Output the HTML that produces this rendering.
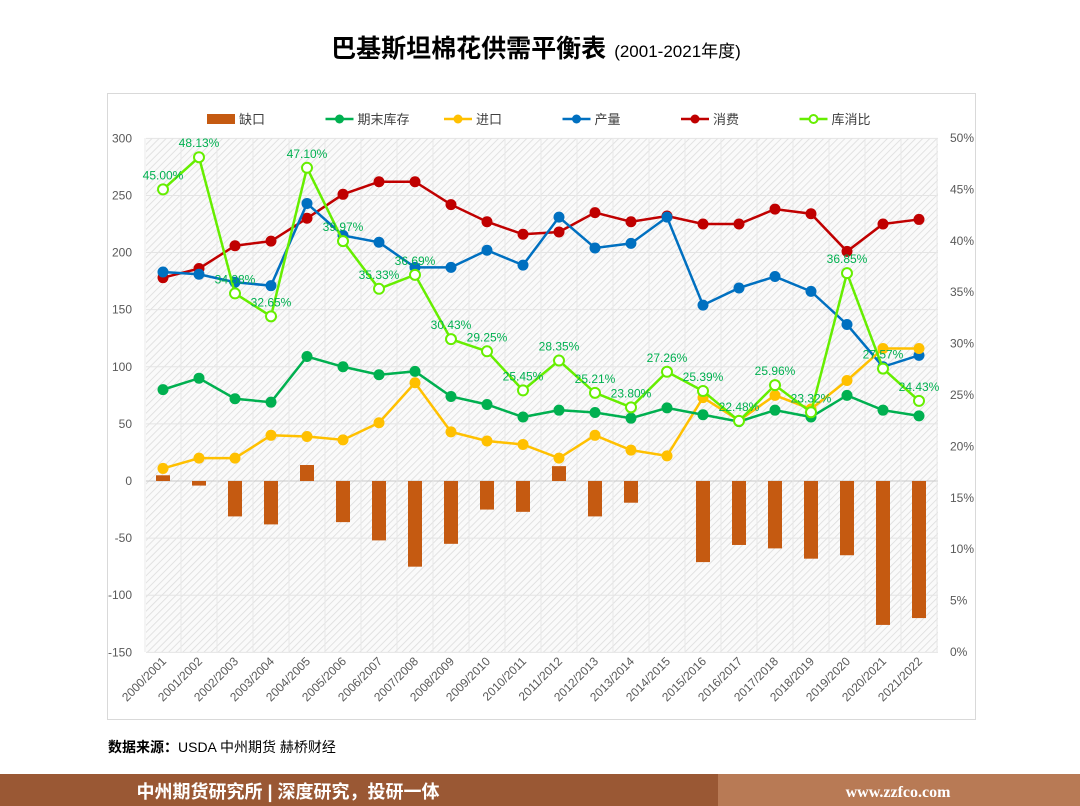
<!DOCTYPE html>
<html><head><meta charset="utf-8">
<style>
body{margin:0;width:1080px;height:806px;background:#fff;font-family:"Liberation Sans","Noto Sans CJK SC",sans-serif;overflow:hidden;position:relative}
</style></head><body>
<svg width="1080" height="806" style="position:absolute;left:0;top:0">
<defs>
<pattern id="hatch" width="5" height="5" patternUnits="userSpaceOnUse" patternTransform="rotate(45)">
<rect width="5" height="5" fill="#fafafa"/><line x1="0" y1="0" x2="0" y2="5" stroke="#dcdcdc" stroke-width="1.6"/>
</pattern>
</defs>
<text x="536" y="57" text-anchor="middle"><tspan font-size="25" font-weight="bold" font-family="Liberation Sans, Noto Sans CJK SC, sans-serif">巴基斯坦棉花供需平衡表</tspan><tspan font-size="17" dx="8">(2001-2021年度)</tspan></text>
<rect x="107.5" y="93.5" width="868" height="626" fill="none" stroke="#d9d9d9"/>
<rect x="146" y="138" width="792" height="514" fill="url(#hatch)"/>
<g id="grid"></g>
<g id="bars"></g>
<g id="lines"></g>
<g id="axes" font-size="12" fill="#595959"></g>
<g id="legend" font-size="13" fill="#404040"></g>
<text x="108" y="752" font-size="14" fill="#000"><tspan font-weight="bold">数据来源：</tspan>USDA  中州期货  赫桥财经</text>
<rect x="0" y="774" width="718" height="32" fill="#9a5834"/>
<rect x="718" y="774" width="362" height="32" fill="#b87a55"/>
<text x="288" y="798" text-anchor="middle" font-size="18" font-weight="bold" fill="#fff">中州期货研究所 | 深度研究，投研一体</text>
<text x="898" y="797" text-anchor="middle" font-size="16" font-weight="bold" fill="#fff" font-family="Liberation Serif, serif">www.zzfco.com</text>
</svg>
<script>
const categories=["2000/2001","2001/2002","2002/2003","2003/2004","2004/2005","2005/2006","2006/2007","2007/2008","2008/2009","2009/2010","2010/2011","2011/2012","2012/2013","2013/2014","2014/2015","2015/2016","2016/2017","2017/2018","2018/2019","2019/2020","2020/2021","2021/2022"];
const deficit=[5,-4,-31,-38,14,-36,-52,-75,-55,-25,-27,13,-31,-19,0,-71,-56,-59,-68,-65,-126,-120];
const endingStocks=[80,90,72,69,109,100,93,96,74,67,56,62,60,55,64,58,52,62,56,75,62,57];
const imports=[11,20,20,40,39,36,51,86,43,35,32,20,40,27,22,73,53,75,63,88,116,116];
const production=[183,181,174,171,243,215,209,187,187,202,189,231,204,208,231,154,169,179,166,137,100,110];
const consumption=[178,186,206,210,230,251,262,262,242,227,216,218,235,227,232,225,225,238,234,201,225,229];
const ratio=[45.00,48.13,34.88,32.65,47.10,39.97,35.33,36.69,30.43,29.25,25.45,28.35,25.21,23.80,27.26,25.39,22.48,25.96,23.32,36.85,27.57,24.43];
const leftTicks=[300,250,200,150,100,50,0,-50,-100,-150];
const rightTicks=[50,45,40,35,30,25,20,15,10,5,0];
const NS="http://www.w3.org/2000/svg";
const X0=163,DX=36,Y0=481,PX=514/450;
const x=i=>X0+i*DX;
const y=v=>Y0-v*PX;
const yr=p=>652-p*514/50;
function mk(tag,parent,attrs){const e=document.createElementNS(NS,tag);for(const k in attrs)e.setAttribute(k,attrs[k]);document.getElementById(parent).appendChild(e);return e;}
leftTicks.forEach(t=>{
 const g=mk('line','grid',{x1:146,x2:938,y1:y(t),y2:y(t),stroke:t===0?'#c8c8c8':'#e4e4e4','stroke-width':1});
 
 
 const l=mk('text','axes',{x:132,y:y(t)+4,'text-anchor':'end'});l.textContent=t;
 
 
});
for(let i=0;i<=categories.length;i++){
 const v=mk('line','grid',{x1:x(i)-18,x2:x(i)-18,y1:138,y2:652,stroke:'#e8e8e8'});
 
 
}
rightTicks.forEach(t=>{
 const l=mk('text','axes',{x:950,y:yr(t)+4});l.textContent=t+'%';
 
 
});
categories.forEach((c,i)=>{
 const l=mk('text','axes',{x:x(i)+4,y:662,'text-anchor':'end',transform:`rotate(-45 ${x(i)+4} 662)`});l.textContent=c;
 
 
});
deficit.forEach((v,i)=>{
 const b=mk('rect','bars',{x:x(i)-7,y:Math.min(y(v),Y0),width:14,height:Math.abs(y(v)-Y0),fill:'#c55a11'});
 
 
});
function series(vals,fy,color,name,hollow){
 const p=mk('polyline','lines',{points:vals.map((v,i)=>x(i)+','+fy(v)).join(' '),fill:'none',stroke:color,'stroke-width':2.5});
 
 
 vals.forEach((v,i)=>{
  const c=mk('circle','lines',hollow?{cx:x(i),cy:fy(v),r:5,fill:'#fff',stroke:color,'stroke-width':2}:{cx:x(i),cy:fy(v),r:5.5,fill:color});
  
  
 });
}
series(consumption,y,'#c00000','consumption');
series(production,y,'#0070c0','production');
series(imports,y,'#ffc000','imports');
series(endingStocks,y,'#00b050','ending-stocks');
series(ratio,yr,'#66ee00','stock-ratio',true);
ratio.forEach((v,i)=>{
 const t=mk('text','lines',{x:x(i),y:yr(v)-10,'text-anchor':'middle','font-size':12,fill:'#00b050'});t.textContent=v.toFixed(2)+'%';
 
 
});
const legendItems=[["缺口","#c55a11","bar"],["期末库存","#00b050","dot"],["进口","#ffc000","dot"],["产量","#0070c0","dot"],["消费","#c00000","dot"],["库消比","#66ee00","hollow"]];
legendItems.forEach((it,i)=>{
 const lx=207+i*118.5;
 if(it[2]==='bar'){const r=mk('rect','legend',{x:lx,y:114,width:28,height:10,fill:it[1]});}
 else{
  const l=mk('line','legend',{x1:lx,x2:lx+28,y1:119,y2:119,stroke:it[1],'stroke-width':2.5});
  
  
  const c=mk('circle','legend',it[2]==='hollow'?{cx:lx+14,cy:119,r:4,fill:'#fff',stroke:it[1],'stroke-width':2}:{cx:lx+14,cy:119,r:4.5,fill:it[1]});
  
  
 }
 const t=mk('text','legend',{x:lx+32,y:124});t.textContent=it[0];
 
 
});
</script>
</body></html>
